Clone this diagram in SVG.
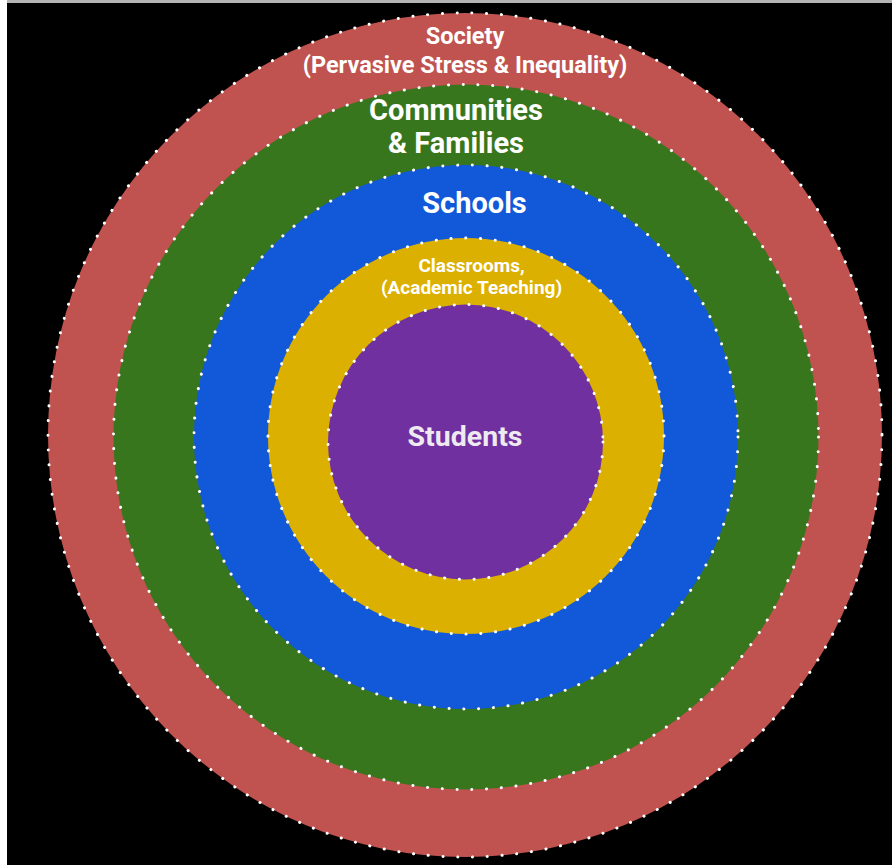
<svg xmlns="http://www.w3.org/2000/svg" width="892" height="865" viewBox="0 0 892 865">
  <style>
    .ring { stroke: #ffffff; stroke-width: 3; stroke-dasharray: 0.1 14.7; stroke-linecap: round; }
    .lbl { font-family: Roboto, "Liberation Sans", sans-serif; font-weight: 700; fill: #ffffff; text-anchor: middle; }
  </style>
  <rect x="0" y="0" width="892" height="865" fill="#000000"/>
  <rect x="0" y="0" width="892" height="3" fill="#b4b4b4"/>
  <rect x="0" y="0" width="7" height="865" fill="#ffffff"/>

  <g id="society">
    <ellipse class="ring" cx="465" cy="435" rx="417" ry="422" fill="#c0534f"/>
    <text class="lbl" x="465" y="44" font-size="23.5">Society</text>
    <text class="lbl" x="465" y="73" font-size="23.5">(Pervasive Stress &amp; Inequality)</text>
  </g>
  <g id="communities">
    <circle class="ring" cx="466" cy="437" r="352.5" fill="#38761d"/>
    <text class="lbl" x="456" y="120" font-size="29">Communities</text>
    <text class="lbl" x="456" y="153" font-size="29">&amp; Families</text>
  </g>
  <g id="schools">
    <circle class="ring" cx="466" cy="437" r="272" fill="#1159d9"/>
    <text class="lbl" x="474.5" y="213" font-size="29">Schools</text>
  </g>
  <g id="classrooms">
    <circle class="ring" cx="466" cy="436" r="198" fill="#dcb000"/>
    <text class="lbl" x="471.5" y="272" font-size="19">Classrooms,</text>
    <text class="lbl" x="471.5" y="294" font-size="19">(Academic Teaching)</text>
  </g>
  <g id="students">
    <circle class="ring" cx="465.5" cy="442" r="137.5" fill="#7030a0"/>
    <text class="lbl" x="465" y="446" font-size="28.5" style="fill:#eeeaf0">Students</text>
  </g>
</svg>
